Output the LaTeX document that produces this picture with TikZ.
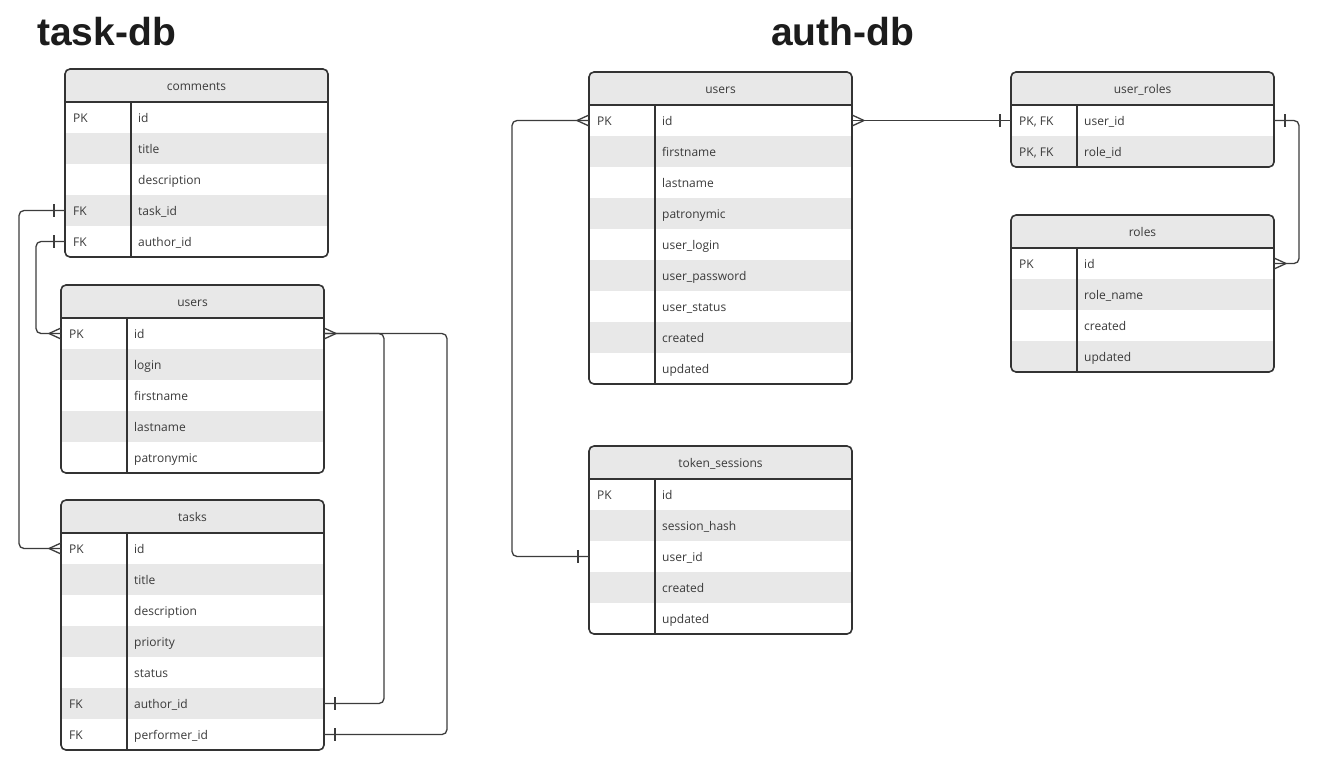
\documentclass[tikz,border=0pt]{standalone}
\usepackage{fontspec}
\setmainfont{Open Sans}
\newfontfamily\headfont{Liberation Sans}

\definecolor{linegray}{HTML}{333333}
\definecolor{relgray}{HTML}{3C3C3C}
\definecolor{cellgray}{HTML}{E8E8E8}
\definecolor{txtgray}{HTML}{3A3A3A}
\definecolor{titleblack}{HTML}{1C1C1C}

\tikzset{
    tblline/.style={draw=linegray, line width=1.6pt},
    rel/.style={draw=relgray, line width=1.3pt},
    tblrow/.style={rectangle, inner sep=0pt, outer sep=0pt, minimum width=263pt, minimum height=31pt},
    celltext/.style={inner sep=0pt, text=txtgray, font=\fontsize{12}{14}\selectfont},
    dbtitle/.style={inner sep=0pt, text=titleblack, font=\headfont\bfseries\fontsize{39}{39}\selectfont},
    crow/.pic={\draw[rel] (-12,0) -- (0,-5.5) (-12,0) -- (0,5.5);},
    onebar/.pic={\draw[rel] (-11,-6.5) -- (-11,6.5);},
}

% #1 name, #2 left, #3 top, #4 title, #5 number of rows, #6 key/field rows
\newcommand{\erdtable}[6]{%
    \begin{scope}
        \clip[rounded corners=5pt] (#2,#3) rectangle ++(263,33+31*#5);
        \fill[cellgray] (#2,#3) rectangle ++(263,33);
        \foreach \pk/\fld [count=\i] in {#6} {
            \ifodd\i \def\rowfill{white}\else \def\rowfill{cellgray}\fi
            \node[tblrow, fill=\rowfill, anchor=north west] (#1-\i) at (#2,#3+2+31*\i) {};
            \node[celltext, anchor=base west] (#1-\i-key) at (#2+8,#3+22+31*\i) {\pk};
            \node[celltext, anchor=base west] (#1-\i-field) at (#2+73,#3+22+31*\i) {\fld};
        }
    \end{scope}
    \node[celltext, anchor=base] (#1-head) at (#2+131.5,#3+21) {#4};
    \draw[tblline, rounded corners=5pt] (#2,#3) rectangle ++(263,33+31*#5);
    \draw[tblline] (#2,#3+33) -- ++(263,0);
    \draw[tblline] (#2+66,#3+33) -- ++(0,31*#5);
}

\begin{document}
\begin{tikzpicture}[x=1pt, y=-1pt]
    \fill[white] (0,0) rectangle (1321,756);
    \useasboundingbox (0,0) rectangle (1321,756);

    \node[dbtitle, anchor=base west] (taskdb) at (37,45) {task-db};
    \node[dbtitle, anchor=base west] (authdb) at (771,45) {auth-db};

    % task-db
    \erdtable{cm}{65}{69}{comments}{5}{PK/id, /title, /description, FK/task\_id, FK/author\_id}
    \erdtable{tu}{61}{285}{users}{5}{PK/id, /login, /firstname, /lastname, /patronymic}
    \erdtable{tk}{61}{500}{tasks}{7}{PK/id, /title, /description, /priority, /status, FK/author\_id, FK/performer\_id}

    % auth-db
    \erdtable{au}{589}{72}{users}{9}{PK/id, /firstname, /lastname, /patronymic, /user\_login, /user\_password, /user\_status, /created, /updated}
    \erdtable{ts}{589}{446}{token\_sessions}{5}{PK/id, /session\_hash, /user\_id, /created, /updated}
    \erdtable{ur}{1011}{72}{user\_roles}{2}{{PK, FK}/user\_id, {PK, FK}/role\_id}
    \erdtable{ro}{1011}{215}{roles}{4}{PK/id, /role\_name, /created, /updated}

    % relations
    \draw[rel, rounded corners=5pt] (cm-4.west) -- ++(-46,0) |- (tk-1.west);
    \draw[rel, rounded corners=5pt] (cm-5.west) -- ++(-29,0) |- (tu-1.west);
    \draw[rel, rounded corners=5pt] (tu-1.east) -- ++(60,0) |- (tk-6.east);
    \draw[rel, rounded corners=5pt] (tu-1.east) -- ++(123,0) |- (tk-7.east);
    \draw[rel, rounded corners=5pt] (au-1.west) -- ++(-77,0) |- (ts-3.west);
    \draw[rel] (au-1.east) -- (ur-1.west);
    \draw[rel, rounded corners=5pt] (ur-1.east) -- ++(25,0) |- (ro-1.east);

    \pic at (cm-4.west) {onebar};
    \pic at (tk-1.west) {crow};
    \pic at (cm-5.west) {onebar};
    \pic at (tu-1.west) {crow};
    \pic[xscale=-1] at (tu-1.east) {crow};
    \pic[xscale=-1] at (tk-6.east) {onebar};
    \pic[xscale=-1] at (tk-7.east) {onebar};
    \pic at (au-1.west) {crow};
    \pic at (ts-3.west) {onebar};
    \pic[xscale=-1] at (au-1.east) {crow};
    \pic at (ur-1.west) {onebar};
    \pic[xscale=-1] at (ur-1.east) {onebar};
    \pic[xscale=-1] at (ro-1.east) {crow};
\end{tikzpicture}
\end{document}
